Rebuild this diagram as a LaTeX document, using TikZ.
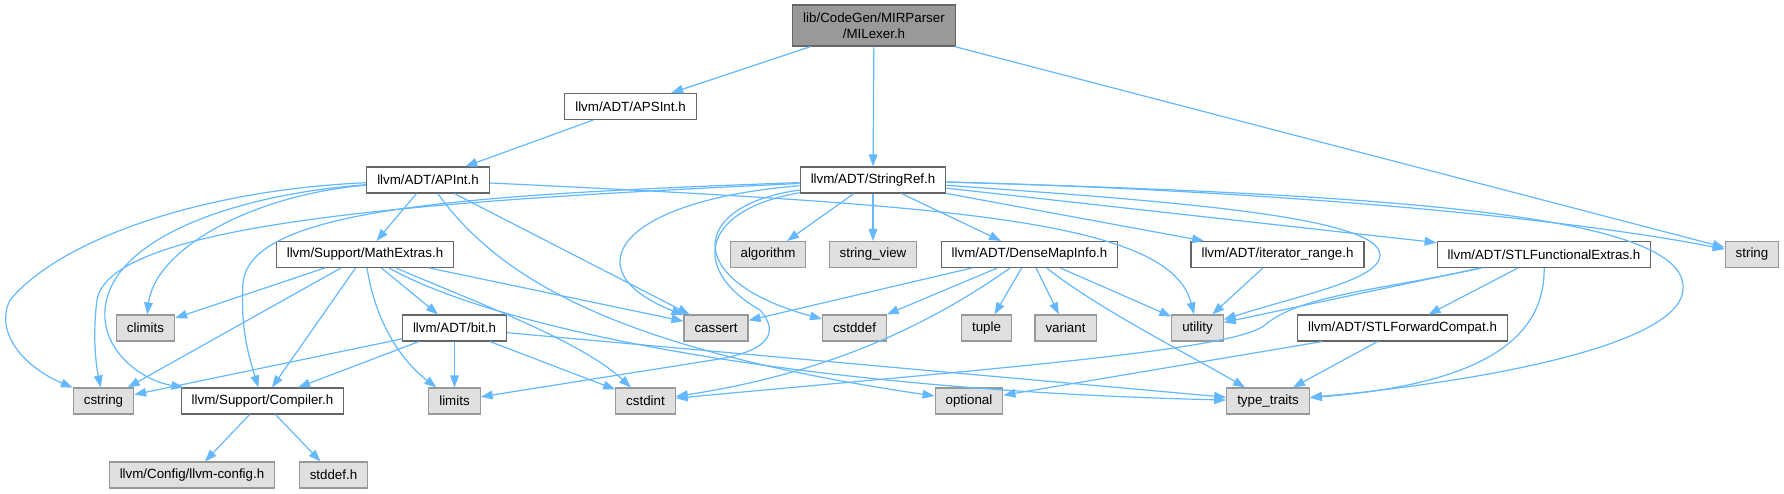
\documentclass[tikz,border=0pt]{standalone}
\usepackage{fontspec}
\setmainfont{Liberation Sans}
\usepackage{tikz}
\usetikzlibrary{arrows.meta}
\definecolor{edgeblue}{HTML}{63B8FF}
\definecolor{hdrline}{HTML}{666666}
\definecolor{sysfill}{HTML}{E0E0E0}
\definecolor{sysline}{HTML}{999999}
\definecolor{rootfill}{HTML}{999999}

\begin{document}
\begin{tikzpicture}[
  x=0.75pt, y=-0.75pt,
  hdr/.style={draw=hdrline, fill=white, line width=0.8pt, inner xsep=7.9pt, inner ysep=2pt,
    minimum height=19.5pt, font=\fontsize{10pt}{12pt}\selectfont},
  sys/.style={hdr, draw=sysline, fill=sysfill},
  root/.style={hdr, fill=rootfill, align=center, minimum height=30.75pt},
  arrow/.style={-{Triangle[length=9pt,width=6.5pt]}, color=edgeblue, line width=0.9pt}
]
\useasboundingbox (0,0) rectangle (1784,493);

\node[root] (milexer) at (874,25.5) {lib/CodeGen/MIRParser\\/MILexer.h};
\node[hdr] (apsint) at (630.5,106.5) {llvm/ADT/APSInt.h};
\node[hdr] (apint) at (428,180) {llvm/ADT/APInt.h};
\node[hdr] (stringref) at (873,180) {llvm/ADT/StringRef.h};

\node[hdr] (mathextras) at (365,254.5) {llvm/Support/MathExtras.h};
\node[sys] (algorithm) at (768,254.5) {algorithm};
\node[sys] (stringview) at (873,254.5) {string\_view};
\node[hdr] (densemap) at (1029.5,254.5) {llvm/ADT/DenseMapInfo.h};
\node[hdr] (iterrange) at (1277.5,254.5) {llvm/ADT/iterator\_range.h};
\node[hdr] (stlfe) at (1544,254.5) {llvm/ADT/STLFunctionalExtras.h};
\node[sys] (string) at (1752,254.5) {string};

\node[sys] (climits) at (145.5,328) {climits};
\node[hdr] (bit) at (454.5,328) {llvm/ADT/bit.h};
\node[sys] (cassert) at (716,328) {cassert};
\node[sys] (cstddef) at (854.5,328) {cstddef};
\node[sys] (tuple) at (986.5,328) {tuple};
\node[sys] (variant) at (1065.5,328) {variant};
\node[sys] (utility) at (1197.5,328) {utility};
\node[hdr] (stlfwd) at (1402.5,328) {llvm/ADT/STLForwardCompat.h};

\node[sys] (cstring) at (103.5,401) {cstring};
\node[hdr] (compiler) at (262.5,401) {llvm/Support/Compiler.h};
\node[sys] (limits) at (454.5,401) {limits};
\node[sys] (cstdint) at (645.5,401) {cstdint};
\node[sys] (optional) at (969,401) {optional};
\node[sys] (typetraits) at (1268,401) {type\_traits};

\node[sys] (config) at (192,475) {llvm/Config/llvm-config.h};
\node[sys] (stddef) at (333.5,475) {stddef.h};

\draw[arrow] (milexer) -- (apsint);
\draw[arrow] (milexer) -- (stringref);
\draw[arrow] (milexer) -- (string);
\draw[arrow] (apsint) -- (apint);

\draw[arrow] (apint) -- (mathextras);
\draw[arrow] (apint) .. controls (250,195) and (155,250) .. (climits);
\draw[arrow] (apint) .. controls (200,190) and (60,240) .. (10,300) .. controls (-5,330) and (20,365) .. (cstring);
\draw[arrow] (apint) .. controls (230,195) and (110,240) .. (105,310) .. controls (102,350) and (140,380) .. (compiler);
\draw[arrow] (apint) -- (cassert);
\draw[arrow] (apint) .. controls (500,280) and (620,350) .. (optional);
\draw[arrow] (apint) .. controls (950,205) and (1170,220) .. (utility);

\draw[arrow] (stringref) .. controls (450,195) and (250,210) .. (243,283) .. controls (240,330) and (250,360) .. (compiler);
\draw[arrow] (stringref) .. controls (450,200) and (110,220) .. (97,300) .. controls (93,330) and (95,360) .. (cstring);
\draw[arrow] (stringref) .. controls (620,200) and (570,270) .. (cassert);
\draw[arrow] (stringref) .. controls (690,205) and (680,280) .. (cstddef);
\draw[arrow] (stringref) .. controls (700,210) and (690,270) .. (760,310) .. controls (782,335) and (765,352) .. (713,360) -- (limits);
\draw[arrow] (stringref) -- (algorithm);
\draw[arrow] (stringref) -- (stringview);
\draw[arrow] (stringref) -- (densemap);
\draw[arrow] (stringref) -- (iterrange);
\draw[arrow] (stringref) -- (stlfe);
\draw[arrow] (stringref) .. controls (1150,200) and (1380,215) .. (1380,255) .. controls (1380,280) and (1300,295) .. (utility);
\draw[arrow] (stringref) .. controls (1250,190) and (1550,215) .. (string);
\draw[arrow] (stringref) .. controls (1400,195) and (1690,215) .. (1683,290) .. controls (1678,350) and (1450,385) .. (typetraits);

\draw[arrow] (mathextras) -- (climits);
\draw[arrow] (mathextras) -- (cstring);
\draw[arrow] (mathextras) -- (compiler);
\draw[arrow] (mathextras) .. controls (375,320) and (400,360) .. (limits);
\draw[arrow] (mathextras) -- (bit);
\draw[arrow] (mathextras) -- (cassert);
\draw[arrow] (mathextras) .. controls (470,300) and (580,340) .. (cstdint);
\draw[arrow] (mathextras) .. controls (500,330) and (800,390) .. (typetraits);

\draw[arrow] (bit) -- (cstring);
\draw[arrow] (bit) -- (compiler);
\draw[arrow] (bit) -- (limits);
\draw[arrow] (bit) -- (cstdint);
\draw[arrow] (bit) -- (typetraits);

\draw[arrow] (compiler) -- (config);
\draw[arrow] (compiler) -- (stddef);

\draw[arrow] (densemap) -- (cassert);
\draw[arrow] (densemap) -- (cstddef);
\draw[arrow] (densemap) .. controls (950,310) and (850,370) .. (cstdint);
\draw[arrow] (densemap) -- (tuple);
\draw[arrow] (densemap) -- (variant);
\draw[arrow] (densemap) -- (utility);
\draw[arrow] (densemap) .. controls (1100,310) and (1190,355) .. (typetraits);

\draw[arrow] (iterrange) -- (utility);

\draw[arrow] (stlfe) -- (stlfwd);
\draw[arrow] (stlfe) -- (utility);
\draw[arrow] (stlfe) .. controls (1380,290) and (1300,295) .. (1265,325) .. controls (1235,350) and (1000,368) .. (cstdint);
\draw[arrow] (stlfe) .. controls (1545,345) and (1470,385) .. (typetraits);

\draw[arrow] (stlfwd) -- (optional);
\draw[arrow] (stlfwd) -- (typetraits);
\end{tikzpicture}
\end{document}
